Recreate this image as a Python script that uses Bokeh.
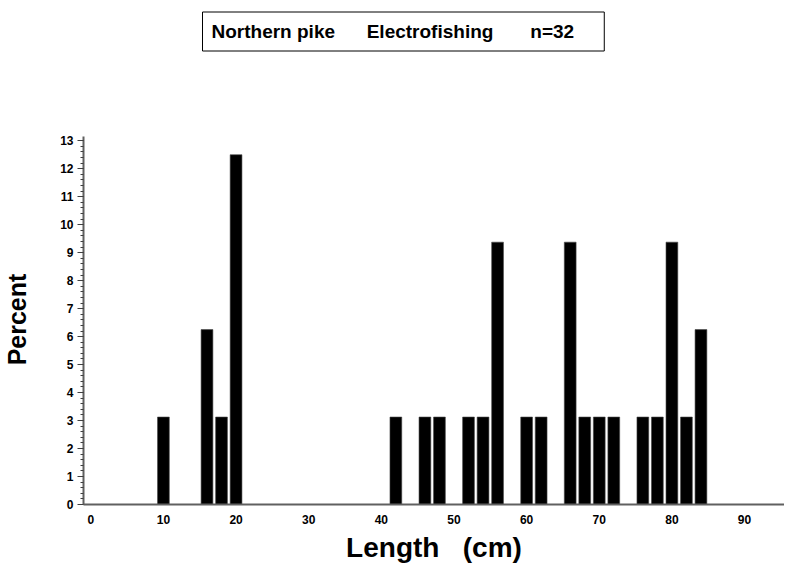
from bokeh.plotting import figure
from bokeh.models import Range1d, Label, FixedTicker, SingleIntervalTicker
from bokeh.embed import file_html
from bokeh.resources import INLINE

# Length class midpoints (cm) and percent of catch
lengths = [10, 16, 18, 20, 42, 46, 48, 52, 54, 56, 60, 62, 66, 68, 70, 72, 76, 78, 80, 82, 84]
percents = [3.125, 6.25, 3.125, 12.5, 3.125, 3.125, 3.125, 3.125, 3.125, 9.375,
            3.125, 3.125, 9.375, 3.125, 3.125, 3.125, 3.125, 3.125, 9.375, 3.125, 6.25]
x_ticks = [0, 10, 20, 30, 40, 50, 60, 70, 80, 90]
NB = "\u00a0"
title_text = "Northern pike" + NB * 6 + "Electrofishing" + NB * 7 + "n=32" + NB * 4
x_label = "Length" + NB * 3 + "(cm)"
y_label = "Percent"

FONT = "Liberation Sans"

p = figure(width=784, height=565, output_backend="svg", toolbar_location=None,
           title=None,
           x_range=Range1d(-1, 95.5), y_range=Range1d(0, 17.94),
           min_border_left=76, min_border_right=0, min_border_top=2, min_border_bottom=60)
p.outline_line_color = None
p.xgrid.visible = False
p.ygrid.visible = False
p.background_fill_color = "white"
p.border_fill_color = "white"

p.vbar(x=lengths, top=percents, bottom=0, width=1.62,
       fill_color="black", line_color="#444444", line_width=0.6)

# x axis
xa = p.xaxis[0]
xa.ticker = FixedTicker(ticks=x_ticks)
xa.major_tick_out = 0
xa.major_tick_in = 0
xa.minor_tick_out = 0
xa.minor_tick_in = 0
xa.major_label_standoff = 10
xa.major_label_text_font = FONT
xa.major_label_text_font_style = "bold"
xa.major_label_text_font_size = "12px"
xa.major_label_text_color = "black"
xa.axis_line_color = "#606060"
xa.axis_line_width = 2
xa.axis_label = x_label
xa.axis_label_text_font = FONT
xa.axis_label_text_font_style = "bold"
xa.axis_label_text_font_size = "28px"
xa.axis_label_text_color = "black"
xa.axis_label_standoff = 5

# y axis (line limited to 0..13.14)
ya = p.yaxis[0]
ya.bounds = (0, 13.14)
ya.ticker = SingleIntervalTicker(interval=1, num_minor_ticks=5)
ya.major_tick_out = 6
ya.major_tick_in = 0
ya.minor_tick_out = 3
ya.minor_tick_in = 0
ya.major_tick_line_color = "#404040"
ya.minor_tick_line_color = "#404040"
ya.major_label_standoff = 4
ya.major_label_text_font = FONT
ya.major_label_text_font_style = "bold"
ya.major_label_text_font_size = "12px"
ya.major_label_text_color = "black"
ya.axis_line_color = "#606060"
ya.axis_line_width = 2
ya.axis_label = y_label + NB * 19
ya.axis_label_text_font = FONT
ya.axis_label_text_font_style = "bold"
ya.axis_label_text_font_size = "25px"
ya.axis_label_text_color = "black"
ya.axis_label_standoff = 26

# boxed title at the top (inside the frame area, screen units)
title = Label(x=119, y=473, x_units="screen", y_units="screen",
              text=title_text, text_align="left", text_baseline="middle",
              text_font=FONT, text_font_style="bold", text_font_size="19px",
              text_color="black",
              border_line_color="black", border_line_width=1,
              background_fill_color="white",
              padding=9)
p.add_layout(title)

open("out.html", "w").write(file_html(p, INLINE))
